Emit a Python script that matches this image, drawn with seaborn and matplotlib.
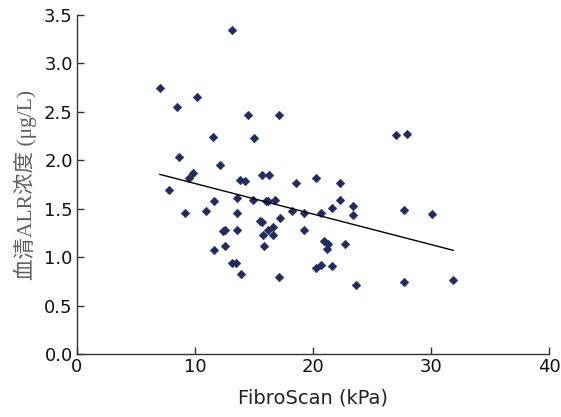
import matplotlib
matplotlib.use("Agg")
import matplotlib.pyplot as plt
import seaborn as sns
import pandas as pd

fibroscan = [7.0, 13.1, 10.17, 8.46, 14.48, 17.08, 11.54, 15.04, 8.68, 12.1,
             9.86, 9.5, 7.79, 13.8, 14.26, 15.71, 16.3, 18.55, 20.25, 22.3,
             11.65, 13.6, 14.93, 16.0, 16.16, 16.75, 9.16, 10.95, 13.56, 18.2,
             19.24, 20.7, 21.6, 22.3, 23.42, 23.42, 15.5, 15.65, 17.2, 16.19,
             16.64, 16.64, 15.74, 12.35, 12.58, 13.56, 19.24, 11.65, 12.58, 15.83,
             20.95, 21.29, 21.15, 22.75, 13.14, 13.47, 13.92, 17.08, 20.25, 20.7,
             21.62, 23.64, 27.06, 27.98, 27.73, 30.1, 27.73, 31.9]
alr = [2.75, 3.34, 2.65, 2.55, 2.47, 2.47, 2.24, 2.23, 2.03, 1.95,
       1.87, 1.82, 1.69, 1.80, 1.79, 1.85, 1.85, 1.77, 1.82, 1.77,
       1.58, 1.61, 1.59, 1.58, 1.58, 1.59, 1.46, 1.48, 1.46, 1.48,
       1.46, 1.46, 1.51, 1.59, 1.53, 1.43, 1.37, 1.36, 1.40, 1.28,
       1.31, 1.23, 1.23, 1.27, 1.28, 1.28, 1.28, 1.07, 1.12, 1.12,
       1.17, 1.14, 1.08, 1.14, 0.94, 0.94, 0.83, 0.79, 0.89, 0.92,
       0.905, 0.71, 2.26, 2.27, 1.49, 1.45, 0.74, 0.76]
fit_x = [7.0, 31.9]
fit_y = [1.855, 1.07]
x_ticks = [0, 10, 20, 30, 40]
y_ticks = [0.0, 0.5, 1.0, 1.5, 2.0, 2.5, 3.0, 3.5]

df = pd.DataFrame({"FibroScan": fibroscan, "ALR": alr})
fit = pd.DataFrame({"x": fit_x, "y": fit_y})

sns.set_style("ticks")
plt.rcParams['font.family'] = ['DejaVu Sans']

fig = plt.figure(figsize=(5.61, 4.17), dpi=100)
ax = fig.add_axes([77 / 561, 63 / 417, 472 / 561, 339 / 417])

sns.scatterplot(data=df, x="FibroScan", y="ALR", marker="D", s=20,
                color="#1f2d5e", edgecolor="#1f2d5e", linewidth=0.3, ax=ax)
sns.lineplot(data=fit, x="x", y="y", color="black", linewidth=1.0, ax=ax)

ax.set_xlim(0, 40)
ax.set_ylim(0, 3.5)
ax.set_xticks(x_ticks)
ax.set_yticks(y_ticks)
ax.set_xticklabels([str(t) for t in x_ticks])
ax.set_yticklabels([f"{t:.1f}" for t in y_ticks])
ax.tick_params(direction="in", length=5, width=1, colors="#333333",
               labelsize=13, labelcolor="#111111")
ax.tick_params(axis="y", pad=3)
ax.tick_params(axis="x", pad=3)
for s in ["top", "right"]:
    ax.spines[s].set_visible(False)
for s in ["left", "bottom"]:
    ax.spines[s].set_color("#333333")
    ax.spines[s].set_linewidth(1)

ax.set_xlabel("FibroScan (kPa)", fontsize=14, color="#222222", labelpad=9)
ax.set_ylabel("血清ALR浓度 (μg/L)", fontsize=15.5, color="#606060",
              family=["Liberation Serif", "Noto Sans CJK SC"], labelpad=5)

fig.savefig("out.png", dpi=100)
